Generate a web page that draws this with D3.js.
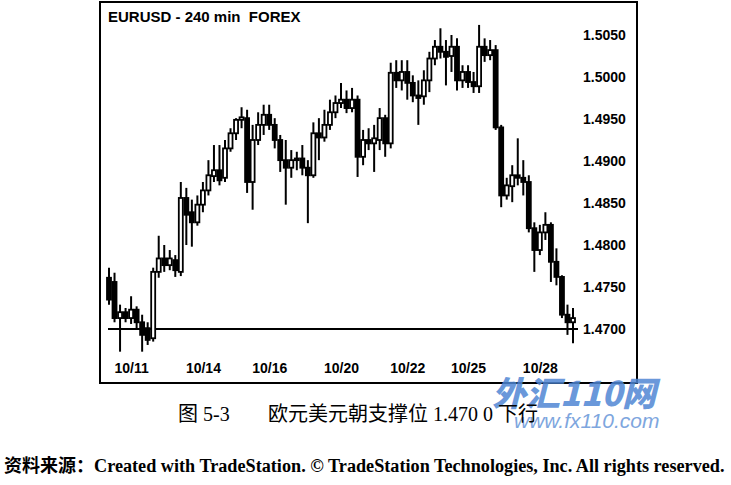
<!DOCTYPE html>
<html><head><meta charset="utf-8">
<script src="https://cdn.jsdelivr.net/npm/d3@7"></script>
<style>body{margin:0;background:#fff}svg{display:block}</style>
</head><body>
<script>
// ---- data (EURUSD 240 min bars) ----
const openP  = [1.4761,1.4756,1.4713,1.4720,1.4713,1.4723,1.4708,1.4701,1.4689,1.4768,
                1.4784,1.4776,1.4782,1.4768,1.4856,1.4839,1.4827,1.4848,1.4865,1.4882,
                1.4889,1.4880,1.4915,1.4933,1.4949,1.4951,1.4875,1.4925,1.4943,1.4955,
                1.4943,1.4925,1.4901,1.4892,1.4901,1.4903,1.4892,1.4883,1.4933,1.4928,
                1.4943,1.4958,1.4969,1.4973,1.4963,1.4973,1.4905,1.4925,1.4921,1.4925,
                1.4951,1.4921,1.5005,1.4996,1.5006,1.4993,1.4978,1.4977,1.4996,1.5022,
                1.5036,1.5030,1.5025,1.5036,1.4996,1.5006,1.4994,1.4989,1.5036,1.5026,
                1.5032,1.4940,1.4859,1.4870,1.4883,1.4880,1.4875,1.4820,1.4794,1.4815,
                1.4824,1.4780,1.4762,1.4717,1.4708];
const highP  = [1.4773,1.4767,1.4729,1.4725,1.4739,1.4727,1.4717,1.4708,1.4773,1.4811,
                1.4800,1.4794,1.4788,1.4875,1.4868,1.4854,1.4859,1.4875,1.4901,1.4919,
                1.4919,1.4925,1.4939,1.4951,1.4964,1.4961,1.4943,1.4958,1.4967,1.4967,
                1.4951,1.4931,1.4925,1.4913,1.4911,1.4919,1.4901,1.4946,1.4951,1.4961,
                1.4973,1.4978,1.4993,1.4984,1.4987,1.4978,1.4937,1.4939,1.4943,1.4963,
                1.4955,1.5017,1.5020,1.5020,1.5020,1.5002,1.4996,1.5008,1.5030,1.5044,
                1.5058,1.5044,1.5050,1.5046,1.5014,1.5014,1.5006,1.5062,1.5046,1.5044,
                1.5038,1.4943,1.4880,1.4895,1.4927,1.4901,1.4883,1.4827,1.4824,1.4839,
                1.4827,1.4796,1.4764,1.4729,1.4725];
const lowP   = [1.4729,1.4708,1.4673,1.4708,1.4706,1.4701,1.4673,1.4681,1.4685,1.4761,
                1.4768,1.4770,1.4762,1.4763,1.4800,1.4798,1.4823,1.4839,1.4859,1.4875,
                1.4871,1.4875,1.4911,1.4925,1.4939,1.4862,1.4842,1.4919,1.4931,1.4937,
                1.4915,1.4887,1.4848,1.4880,1.4889,1.4883,1.4826,1.4880,1.4901,1.4923,
                1.4937,1.4951,1.4963,1.4957,1.4958,1.4881,1.4895,1.4913,1.4887,1.4913,
                1.4905,1.4915,1.4987,1.4984,1.4973,1.4970,1.4943,1.4967,1.4982,1.5014,
                1.5022,1.4990,1.5006,1.4984,1.4987,1.4987,1.4981,1.4981,1.5018,1.5020,
                1.4937,1.4845,1.4854,1.4851,1.4871,1.4859,1.4815,1.4768,1.4788,1.4806,
                1.4756,1.4752,1.4713,1.4693,1.4683];
const closeP = [1.4735,1.4713,1.4720,1.4713,1.4723,1.4708,1.4693,1.4687,1.4768,1.4784,
                1.4776,1.4784,1.4770,1.4856,1.4836,1.4827,1.4848,1.4865,1.4883,1.4889,
                1.4877,1.4915,1.4933,1.4949,1.4952,1.4875,1.4925,1.4943,1.4955,1.4943,
                1.4925,1.4901,1.4892,1.4901,1.4903,1.4892,1.4883,1.4933,1.4928,1.4943,
                1.4958,1.4969,1.4973,1.4963,1.4973,1.4905,1.4925,1.4921,1.4927,1.4951,
                1.4921,1.5005,1.4996,1.5006,1.4993,1.4978,1.4975,1.4996,1.5022,1.5036,
                1.5030,1.5024,1.5036,1.4996,1.5006,1.4994,1.4989,1.5036,1.5026,1.5032,
                1.4940,1.4859,1.4871,1.4883,1.4880,1.4875,1.4820,1.4794,1.4815,1.4824,
                1.4780,1.4762,1.4717,1.4708,1.4713];
const dateTickIndex  = [4, 17, 29, 42, 54, 65, 78];
const dateTickLabels = ["10/11","10/14","10/16","10/20","10/22","10/25","10/28"];
const priceTicks = [1.4700,1.4750,1.4800,1.4850,1.4900,1.4950,1.5000,1.5050];
const supportLevel = 1.4700;
const chartTitle = "EURUSD - 240 min  FOREX";
const captionNo = "图 5-3";
const captionText = "欧元美元朝支撑位 1.470 0 下行";
const sourceLabel = "资料来源：";
const sourceText = "Created with TradeStation. © TradeStation Technologies, Inc. All rights reserved.";

// ---- drawing ----
const W = 731, H = 485;
const svg = d3.select("body").append("svg").attr("width", W).attr("height", H)
  .style("background", "#fff");

const bars = openP.map((o, i) => ({i, o, h: highP[i], l: lowP[i], c: closeP[i]}));
const x = d3.scaleLinear().domain([0, bars.length - 1]).range([109, 573]);
const y = d3.scaleLinear().domain([1.47, 1.505]).range([329, 35]);

// frame
svg.append("rect").attr("x", 100).attr("y", 2).attr("width", 537).attr("height", 381)
  .attr("fill", "none").attr("stroke", "#000").attr("stroke-width", 2);

// title
svg.append("text").attr("x", 108).attr("y", 22).text(chartTitle)
  .style("white-space", "pre")
  .attr("font-family", "Liberation Sans, Arial, sans-serif").attr("font-weight", "bold")
  .attr("font-size", 15).attr("fill", "#000");

// support line
svg.append("line").attr("x1", 108).attr("x2", 578)
  .attr("y1", y(supportLevel)).attr("y2", y(supportLevel))
  .attr("stroke", "#000").attr("stroke-width", 2);

// candles
const g = svg.append("g");
g.selectAll("line.wick").data(bars).join("line").attr("class", "wick")
  .attr("x1", d => x(d.i)).attr("x2", d => x(d.i))
  .attr("y1", d => y(d.h)).attr("y2", d => y(d.l))
  .attr("stroke", "#000").attr("stroke-width", 2);
g.selectAll("rect.body").data(bars).join("rect").attr("class", "body")
  .attr("x", d => x(d.i) - 2).attr("width", 4)
  .attr("y", d => y(Math.max(d.o, d.c)))
  .attr("height", d => Math.max(1, Math.abs(y(d.o) - y(d.c))))
  .attr("fill", d => d.c < d.o ? "#000" : "#fff")
  .attr("stroke", "#000").attr("stroke-width", 1.8);

// price axis
const ya = svg.append("g").attr("transform", "translate(583,0)")
  .call(d3.axisRight(y).tickValues(priceTicks).tickFormat(d3.format(".4f")).tickSize(0).tickPadding(0));
ya.select(".domain").remove();
ya.selectAll("text").attr("font-family", "Liberation Sans, Arial, sans-serif")
  .attr("font-weight", "bold").attr("font-size", 14).attr("fill", "#000");

// date axis
const xa = svg.append("g").attr("transform", "translate(0,360)")
  .call(d3.axisBottom(x).tickValues(dateTickIndex).tickFormat((d, i) => dateTickLabels[i]).tickSize(0).tickPadding(3));
xa.select(".domain").remove();
xa.selectAll("text").attr("font-family", "Liberation Sans, Arial, sans-serif")
  .attr("font-weight", "bold").attr("font-size", 14).attr("fill", "#000");

// watermark
svg.append("text").attr("x", 492).attr("y", 406).text("外汇110网")
  .attr("font-family", "Noto Sans CJK SC, sans-serif").attr("font-weight", 900)
  .attr("font-style", "italic").attr("font-size", 34)
  .attr("fill", "#4f86d4").attr("fill-opacity", 0.85);
svg.append("text").attr("x", 514).attr("y", 428).text("www.fx110.com")
  .attr("font-family", "Liberation Sans, Arial, sans-serif").attr("font-style", "italic")
  .attr("font-size", 21).attr("fill", "#7ea6de");

// caption
const cap = svg.append("text").attr("y", 421)
  .attr("font-family", "Liberation Serif, Noto Sans CJK SC, serif").attr("font-size", 20).attr("fill", "#000");
cap.append("tspan").attr("x", 178).text(captionNo);
cap.append("tspan").attr("x", 268).text(captionText);

// source line
const src = svg.append("text").attr("y", 472).attr("fill", "#000");
src.append("tspan").attr("x", 4).attr("font-family", "Noto Sans CJK SC, sans-serif")
  .attr("font-weight", "bold").attr("font-size", 18).text(sourceLabel);
src.append("tspan").attr("font-family", "Liberation Serif, serif")
  .attr("font-weight", "bold").attr("font-size", 18.2).text(sourceText);
</script>
</body></html>
